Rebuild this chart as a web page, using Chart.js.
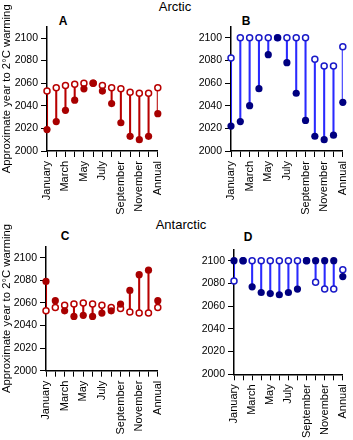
<!DOCTYPE html>
<html>
<head>
<meta charset="utf-8">
<script src="https://cdn.jsdelivr.net/npm/chart.js@4"></script>
<style>
html,body{margin:0;padding:0;background:#fff;overflow:hidden}
body{width:353px;height:440px;position:relative;font-family:'Liberation Sans',Arial,sans-serif;color:#000}
canvas{position:absolute}
.t{position:absolute;font-size:13px;line-height:13px;text-align:center;width:120px}
.l{position:absolute;font-size:12px;line-height:12px;font-weight:bold;text-align:center;width:20px}
</style>
</head>
<body>
<div class="t" style="left:115px;top:0px">Arctic</div>
<div class="t" style="left:121px;top:218px">Antarctic</div>
<div class="l" style="left:53px;top:15px">A</div>
<div class="l" style="left:236px;top:15px">B</div>
<div class="l" style="left:55px;top:230px">C</div>
<div class="l" style="left:238px;top:231px">D</div>
<canvas id="cA" width="175" height="220" style="left:0;top:0"></canvas>
<canvas id="cB" width="185" height="220" style="left:175px;top:0"></canvas>
<canvas id="cC" width="175" height="220" style="left:0;top:220px"></canvas>
<canvas id="cD" width="185" height="220" style="left:175px;top:220px"></canvas>
<script>
const categories = ['January','February','March','April','May','June','July','August','September','October','November','December','Annual'];
const tickLabels = ['January','','March','','May','','July','','September','','November','','Annual'];
const yTicks = [2000, 2020, 2040, 2060, 2080, 2100];
const yTitle = 'Approximate year to 2\u00B0C warming';

const arcticRedOpen     = [2053,2056,2058,2059,2060,2060,2058,2056,2055,2052,2051,2051,2056];
const arcticRedFilled   = [2019,2026,2036,2045,2055,2060,2053,2042,2025,2013,2010,2013,2033];
const arcticBlueOpen    = [2082,2100,2100,2100,2100,2100,2100,2100,2100,2081,2075,2075,2092];
const arcticBlueFilled  = [2022,2026,2040,2055,2085,2100,2078,2051,2027,2013,2010,2014,2043];
const antarcticRedOpen    = [2053,2056,2058,2059,2060,2059,2058,2056,2055,2052,2051,2051,2056];
const antarcticRedFilled  = [2079,2062,2053,2048,2049,2048,2051,2053,2059,2071,2085,2089,2062];
const antarcticBlueOpen   = [2082,2100,2100,2100,2100,2100,2100,2100,2100,2081,2075,2075,2092];
const antarcticBlueFilled = [2100,2100,2077,2072,2071,2070,2072,2075,2100,2100,2100,2100,2086];

const RED = {line:'#b80000', filled:'#a80000', open:'#b80000'};
const BLUE = {line:'#2a2aff', filled:'#000080', open:'#1a1ac8'};
const FONT = "'Liberation Sans', Arial";

function makeChart(id, open, filled, col, cfg) {
  new Chart(document.getElementById(id), {
    type: 'bar',
    data: {
      labels: categories,
      datasets: [
        {type:'bar', data: open.map((o,i)=>[o, filled[i]]), backgroundColor: col.line, borderWidth:0, barThickness:1.4, order:2},
        {type:'line', data: open, showLine:false, pointRadius:3, pointHoverRadius:3, pointBackgroundColor:'#fff', pointBorderColor: col.open, pointBorderWidth:1.5, clip:false, order:1},
        {type:'line', data: filled, showLine:false, pointRadius:3.6, pointHoverRadius:3.6, pointBackgroundColor: col.filled, pointBorderColor: col.filled, pointBorderWidth:0, clip:false, order:0}
      ]
    },
    options: {
      responsive:false, animation:false,
      events: [],
      layout:{padding:{left:0, right:cfg.right, top:cfg.top, bottom:0}},
      plugins:{legend:{display:false}, tooltip:{enabled:false}, title:{display:false}},
      scales:{
        x:{
          type:'category', offset:false,
          grid:{offset:false, drawOnChartArea:false, drawTicks:true, tickLength:6, color:'#000', lineWidth:1},
          border:{display:true, color:'#000', width:1.5},
          ticks:{autoSkip:false, maxRotation:90, minRotation:90, padding:4, color:'#000',
                 font:{family:FONT, size:11}, callback:(v,i)=>tickLabels[i]},
          afterFit: s => { s.height = cfg.h; }
        },
        y:{
          min:2000, max:2110,
          afterBuildTicks: s => { s.ticks = yTicks.map(v=>({value:v})); },
          grid:{drawOnChartArea:false, drawTicks:true, tickLength:6, color:'#000', lineWidth:1},
          border:{display:true, color:'#000', width:1.5},
          ticks:{padding:3, color:'#000', font:{family:FONT, size:10.5}, callback:v=>String(v)},
          title:{display:!!cfg.title, text:yTitle, color:'#000', padding:{top:0,bottom:0}, font:{family:FONT, size:11.3}},
          afterFit: s => { s.width = cfg.w; }
        }
      }
    }
  });
}

makeChart('cA', arcticRedOpen, arcticRedFilled, RED, {w:47, right:13, top:26.7, h:69, title:true});
makeChart('cB', arcticBlueOpen, arcticBlueFilled, BLUE, {w:56, right:13.3, top:26.4, h:69, title:false});
makeChart('cC', antarcticRedOpen, antarcticRedFilled, RED, {w:46, right:13, top:26.4, h:69.3, title:true});
makeChart('cD', antarcticBlueOpen, antarcticBlueFilled, BLUE, {w:59, right:10.7, top:29.3, h:65.7, title:false});
</script>
</body>
</html>
